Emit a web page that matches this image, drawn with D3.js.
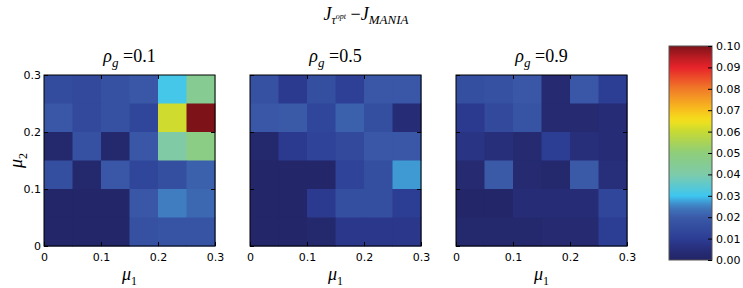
<!DOCTYPE html>
<html>
<head>
<meta charset="utf-8">
<script src="https://cdn.jsdelivr.net/npm/d3@7"></script>
<style>
  body { margin: 0; background: #fff; }
  text { font-family: "DejaVu Sans", sans-serif; }
  .math { font-family: "Liberation Serif", "DejaVu Serif", serif; font-style: italic; }
</style>
</head>
<body>
<div id="chart"></div>
<script>
// data: rows are mu2 from 0.3 (top) down to 0, columns mu1 from 0 to 0.3
var rhoLabels = ['0.1', '0.5', '0.9']
var tickLabels = ['0', '0.1', '0.2', '0.3']
var cbTicks = [0, 0.01, 0.02, 0.03, 0.04, 0.05, 0.06, 0.07, 0.08, 0.09, 0.10]

var gridRho01 = [
  [0.015, 0.014, 0.017, 0.019, 0.031, 0.045],
  [0.019, 0.014, 0.017, 0.013, 0.061, 0.100],
  [0.002, 0.017, 0.002, 0.019, 0.041, 0.048],
  [0.016, 0.002, 0.019, 0.013, 0.016, 0.021],
  [0.001, 0.001, 0.001, 0.019, 0.025, 0.022],
  [0.001, 0.001, 0.001, 0.017, 0.018, 0.018]
]
var gridRho05 = [
  [0.017, 0.009, 0.016, 0.011, 0.019, 0.019],
  [0.019, 0.020, 0.013, 0.021, 0.016, 0.004],
  [0.002, 0.009, 0.012, 0.014, 0.019, 0.019],
  [0.001, 0.001, 0.001, 0.012, 0.016, 0.027],
  [0.001, 0.001, 0.009, 0.016, 0.016, 0.010],
  [0.001, 0.001, 0.002, 0.008, 0.008, 0.008]
]
var gridRho09 = [
  [0.016, 0.017, 0.019, 0.003, 0.019, 0.010],
  [0.009, 0.014, 0.018, 0.003, 0.003, 0.004],
  [0.007, 0.005, 0.003, 0.010, 0.005, 0.004],
  [0.003, 0.020, 0.003, 0.002, 0.020, 0.005],
  [0.001, 0.001, 0.004, 0.004, 0.004, 0.013],
  [0.002, 0.002, 0.002, 0.003, 0.003, 0.010]
]
var grids = [gridRho01, gridRho05, gridRho09]

var W = 743, H = 288
var svg = d3.select('#chart').append('svg')
  .attr('width', W).attr('height', H)

// muted jet-like colour map
var color = d3.scaleLinear()
  .domain([0, 0.005, 0.01, 0.02, 0.025, 0.03, 0.04, 0.05, 0.06, 0.065, 0.07, 0.08, 0.09, 0.095, 0.1])
  .range(['#222464', '#272e7a', '#2c3d94', '#3a5aa8', '#3f7cc0', '#3ec6f0', '#7ecbaa', '#8ecd7a', '#c6da34',
    '#f3e21c', '#f8c01d', '#f17a28', '#e7232a', '#b81b22', '#7d1319'])
  .clamp(true)

var panelX = [44, 250, 456]
var panelTop = 75, size = 171

grids.forEach(function (grid, p) {
  var g = svg.append('g').attr('transform', 'translate(' + panelX[p] + ',' + panelTop + ')')
  var x = d3.scaleLinear().domain([0, 0.3]).range([0, size])
  var y = d3.scaleLinear().domain([0, 0.3]).range([size, 0])

  grid.forEach(function (row, r) {
    row.forEach(function (v, c) {
      var mu1 = c * 0.05, mu2 = 0.3 - r * 0.05
      g.append('rect')
        .attr('x', x(mu1)).attr('y', y(mu2))
        .attr('width', x(mu1 + 0.05) - x(mu1) + 0.5)
        .attr('height', y(mu2 - 0.05) - y(mu2) + 0.5)
        .attr('fill', color(v))
    })
  })

  g.append('rect').attr('width', size).attr('height', size)
    .attr('fill', 'none').attr('stroke', '#000').attr('stroke-width', 1)

  // inward ticks
  var xa = g.append('g').attr('transform', 'translate(0,' + size + ')')
    .call(d3.axisBottom(x).tickValues([0, 0.1, 0.2, 0.3]).tickSizeInner(-4).tickSizeOuter(0)
      .tickFormat(function (d, i) { return tickLabels[i] }))
  xa.select('.domain').remove()
  xa.selectAll('text').attr('dy', '1.05em').style('font-size', '11px').attr('fill', '#000')
  g.append('g')
    .call(d3.axisTop(x).tickValues([0.1, 0.2]).tickSizeInner(-4).tickSizeOuter(0).tickFormat(''))
    .select('.domain').remove()

  var ya = g.append('g')
    .call(d3.axisLeft(y).tickValues([0, 0.1, 0.2, 0.3]).tickSizeInner(-4).tickSizeOuter(0)
      .tickFormat(function (d, i) { return p === 0 ? tickLabels[i] : '' }))
  ya.select('.domain').remove()
  ya.selectAll('text').attr('x', -3).style('font-size', '11px').attr('fill', '#000')
  g.append('g').attr('transform', 'translate(' + size + ',0)')
    .call(d3.axisRight(y).tickValues([0.1, 0.2]).tickSizeInner(-4).tickSizeOuter(0).tickFormat(''))
    .select('.domain').remove()

  // panel title
  var t = g.append('text').attr('class', 'math').attr('x', size / 2).attr('y', -13)
    .attr('text-anchor', 'middle').style('font-size', '18px')
  t.append('tspan').text('\u03c1')
  t.append('tspan').attr('dy', 5).style('font-size', '13px').text('g')
  t.append('tspan').attr('dy', -5).style('font-style', 'normal').text(' =' + rhoLabels[p])

  // x label
  var xl = g.append('text').attr('class', 'math').attr('x', size / 2).attr('y', size + 34)
    .attr('text-anchor', 'middle').style('font-size', '18px')
  xl.append('tspan').text('\u03bc')
  xl.append('tspan').attr('dy', 5).style('font-size', '12px').style('font-style', 'normal').text('1')
})

// y label
var yl = svg.append('text').attr('class', 'math')
  .attr('transform', 'translate(22,' + (panelTop + size / 2) + ') rotate(-90)')
  .attr('text-anchor', 'middle').style('font-size', '18px')
yl.append('tspan').text('\u03bc')
yl.append('tspan').attr('dy', 5).style('font-size', '12px').style('font-style', 'normal').text('2')

// main title
var mt = svg.append('text').attr('class', 'math').attr('x', 366).attr('y', 20)
  .attr('text-anchor', 'middle').style('font-size', '18px')
mt.append('tspan').text('J')
mt.append('tspan').attr('dy', 4).style('font-size', '12px').text('\u03c4')
mt.append('tspan').attr('dy', -5).style('font-size', '8px').text('opt')
mt.append('tspan').attr('dy', 1).style('font-style', 'normal').text(' \u2212')
mt.append('tspan').text('J')
mt.append('tspan').attr('dy', 4).style('font-size', '13px').text('MANIA')

// colour bar
var cbX = 669, cbW = 43, cbTop = 46, cbBot = 260
var cy = d3.scaleLinear().domain([0, 0.1]).range([cbBot, cbTop])
var defs = svg.append('defs')
var grad = defs.append('linearGradient').attr('id', 'cbgrad')
  .attr('x1', 0).attr('y1', 1).attr('x2', 0).attr('y2', 0)
d3.range(0, 1.0001, 0.02).forEach(function (f) {
  grad.append('stop').attr('offset', f).attr('stop-color', color(f * 0.1))
})
svg.append('rect').attr('x', cbX).attr('y', cbTop).attr('width', cbW).attr('height', cbBot - cbTop)
  .attr('fill', 'url(#cbgrad)').attr('stroke', '#555').attr('stroke-width', 1)
var ca = svg.append('g').attr('transform', 'translate(' + (cbX + cbW) + ',0)')
  .call(d3.axisRight(cy).tickValues(cbTicks).tickSizeInner(-4).tickSizeOuter(0)
    .tickFormat(d3.format('.2f')))
ca.select('.domain').remove()
ca.selectAll('text').attr('x', 4).style('font-size', '11px').attr('fill', '#000')
</script>
</body>
</html>
